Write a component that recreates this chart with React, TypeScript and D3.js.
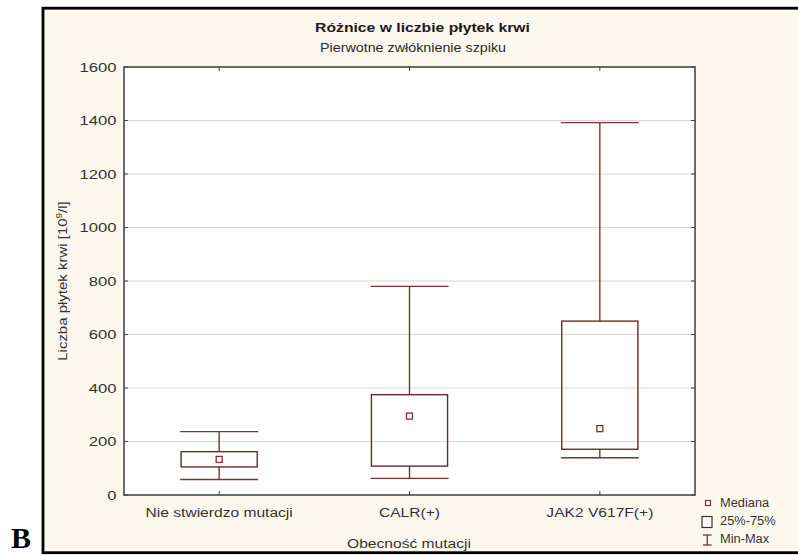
import React from "react";
import * as d3 from "d3";

// Platelet counts by mutation status (box = 25%-75%, whiskers = min-max)
const categories = ["Nie stwierdzo mutacji", "CALR(+)", "JAK2 V617F(+)"];
const minValues = [58, 62, 139];
const q1Values = [105, 108, 171];
const medianValues = [133, 295, 248];
const q3Values = [162, 375, 650];
const maxValues = [237, 780, 1392];
const yTicks = [0, 200, 400, 600, 800, 1000, 1200, 1400, 1600];

const W = 798;
const H = 555;
const plot = { left: 124, top: 67, right: 695, bottom: 495 };

const FONT = "'Liberation Sans', Arial, sans-serif";
const FS = 13.5;
const BOX_COLOR = "#6a2a2a";
const WHISKER_COLOR = "#7e3232";

type STextProps = {
  x: number;
  y: number;
  sx?: number;
  anchor?: "start" | "middle" | "end";
  size?: number;
  weight?: string | number;
  fill?: string;
  rotate?: number;
  dy?: string;
  children: React.ReactNode;
};

// Text with an optional horizontal stretch along its reading direction
function SText({ x, y, sx = 1, anchor = "middle", size = FS, weight = "normal", fill = "#2a2a2a", rotate = 0, dy, children }: STextProps) {
  return (
    <text
      transform={`translate(${x},${y}) rotate(${rotate}) scale(${sx},1)`}
      textAnchor={anchor}
      fontFamily={FONT}
      fontSize={size}
      fontWeight={weight}
      fill={fill}
      dy={dy}
    >
      {children}
    </text>
  );
}

export default function App() {
  const x = d3.scaleBand<string>().domain(categories).range([plot.left, plot.right]).padding(0);
  const y = d3.scaleLinear().domain([0, 1600]).range([plot.bottom, plot.top]);
  const bw = x.bandwidth();
  const boxW = bw * 0.4;
  const capW = bw * 0.205;
  const tickLen = 4;

  return (
    <svg width={W} height={H} style={{ position: "absolute", left: 0, top: 0 }}>
      {/* chart background with heavy frame */}
      <rect x={0} y={0} width={W} height={H} fill="#ffffff" />
      <rect x={43} y={8.2} width={800} height={544.5} fill="#fdf8ee" stroke="#000" strokeWidth={2.8} />

      {/* panel letter */}
      <text x={11} y={548} fontFamily="'Liberation Serif', 'Times New Roman', serif" fontWeight="bold" fontSize={30} fill="#000">
        B
      </text>

      {/* titles */}
      <SText x={422.5} y={32} sx={1.165} weight="bold" fill="#1a1a1a">Różnice w liczbie płytek krwi</SText>
      <SText x={413} y={52} sx={1.06} fill="#2a2a2a">Pierwotne zwłóknienie szpiku</SText>

      {/* plot area */}
      <rect x={plot.left} y={plot.top} width={plot.right - plot.left} height={plot.bottom - plot.top} fill="#ffffff" />

      {/* horizontal gridlines */}
      {yTicks.slice(1, -1).map((t) => (
        <line key={`g${t}`} x1={plot.left} x2={plot.right} y1={y(t)} y2={y(t)} stroke="#d6d6d6" strokeWidth={1} />
      ))}

      {/* inward ticks on left and right */}
      {yTicks.map((t) => (
        <g key={`t${t}`}>
          <line x1={plot.left} x2={plot.left + tickLen} y1={y(t)} y2={y(t)} stroke="#444" strokeWidth={1} />
          <line x1={plot.right - tickLen} x2={plot.right} y1={y(t)} y2={y(t)} stroke="#444" strokeWidth={1} />
        </g>
      ))}

      {/* inward ticks on top and bottom at category centers */}
      {categories.map((c) => {
        const cx = (x(c) ?? 0) + bw / 2;
        return (
          <g key={`ct${c}`}>
            <line x1={cx} x2={cx} y1={plot.top} y2={plot.top + tickLen} stroke="#444" strokeWidth={1} />
            <line x1={cx} x2={cx} y1={plot.bottom - tickLen} y2={plot.bottom} stroke="#444" strokeWidth={1} />
          </g>
        );
      })}

      {/* boxes and whiskers */}
      {categories.map((c, i) => {
        const cx = (x(c) ?? 0) + bw / 2;
        return (
          <g key={`b${c}`}>
            <line x1={cx} x2={cx} y1={y(maxValues[i])} y2={y(q3Values[i])} stroke={WHISKER_COLOR} strokeWidth={1.4} />
            <line x1={cx} x2={cx} y1={y(q1Values[i])} y2={y(minValues[i])} stroke={WHISKER_COLOR} strokeWidth={1.4} />
            <line x1={cx - capW} x2={cx + capW} y1={y(maxValues[i])} y2={y(maxValues[i])} stroke={WHISKER_COLOR} strokeWidth={1.4} />
            <line x1={cx - capW} x2={cx + capW} y1={y(minValues[i])} y2={y(minValues[i])} stroke={WHISKER_COLOR} strokeWidth={1.4} />
            <rect
              x={cx - boxW / 2}
              y={y(q3Values[i])}
              width={boxW}
              height={y(q1Values[i]) - y(q3Values[i])}
              fill="none"
              stroke={BOX_COLOR}
              strokeWidth={1.4}
            />
            <rect x={cx - 3} y={y(medianValues[i]) - 3} width={6} height={6} fill="#fff" stroke={WHISKER_COLOR} strokeWidth={1.3} />
          </g>
        );
      })}

      {/* plot frame */}
      <rect x={plot.left} y={plot.top} width={plot.right - plot.left} height={plot.bottom - plot.top} fill="none" stroke="#3c3c3c" strokeWidth={1.5} />

      {/* y tick labels */}
      {yTicks.map((t) => (
        <SText key={`yl${t}`} x={116.5} y={y(t)} dy="0.36em" sx={1.23} anchor="end" fill="#333">
          {t}
        </SText>
      ))}

      {/* category labels */}
      {categories.map((c) => (
        <SText key={`xl${c}`} x={(x(c) ?? 0) + bw / 2} y={516.5} sx={1.155} fill="#333">
          {c}
        </SText>
      ))}

      {/* axis titles */}
      <SText x={409} y={548} sx={1.155} fill="#333">Obecność mutacji</SText>
      <SText x={67} y={281} sx={1.11} rotate={-90} fill="#333">
        Liczba płytek krwi [10<tspan fontSize={9} dy="-5">9</tspan><tspan dy="5">/l]</tspan>
      </SText>

      {/* legend */}
      <rect x={705.5} y={500.5} width={5} height={5} fill="#fff" stroke={WHISKER_COLOR} strokeWidth={1.2} />
      <SText x={720} y={507} sx={0.95} anchor="start" fill="#333">Mediana</SText>
      <rect x={702} y={516.5} width={10} height={11} fill="#fff" stroke="#333" strokeWidth={1.2} />
      <SText x={720} y={525} sx={0.95} anchor="start" fill="#333">25%-75%</SText>
      <line x1={707.3} x2={707.3} y1={535} y2={545} stroke={WHISKER_COLOR} strokeWidth={1.3} />
      <line x1={703} x2={711.6} y1={535} y2={535} stroke={WHISKER_COLOR} strokeWidth={1.3} />
      <line x1={703} x2={711.6} y1={545} y2={545} stroke={WHISKER_COLOR} strokeWidth={1.3} />
      <SText x={720} y={543} sx={0.95} anchor="start" fill="#333">Min-Max</SText>
    </svg>
  );
}
